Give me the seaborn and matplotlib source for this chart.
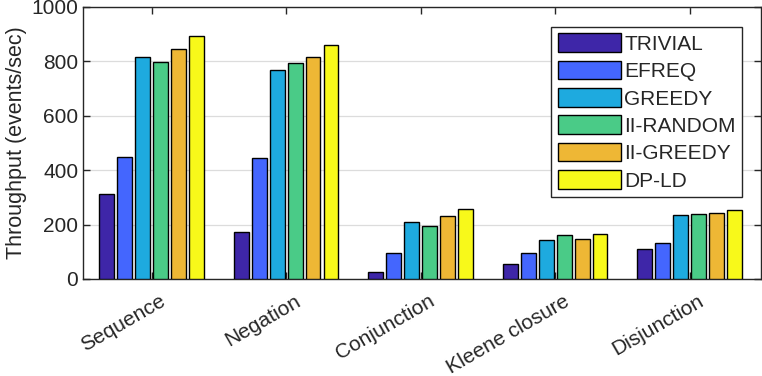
import pandas as pd
import matplotlib
matplotlib.use('Agg')
import matplotlib.pyplot as plt
import matplotlib.transforms as mtransforms
import seaborn as sns

categories = ['Sequence', 'Negation', 'Conjunction', 'Kleene closure', 'Disjunction']
methods = ['TRIVIAL', 'EFREQ', 'GREEDY', 'II-RANDOM', 'II-GREEDY', 'DP-LD']
colors = ['#3E26A8', '#4466FE', '#1EAADF', '#4ACB87', '#EEB735', '#F8F91A']

trivial = [311, 172, 25, 54, 110]
efreq = [447, 444, 94, 94, 131]
greedy = [817, 767, 210, 143, 234]
ii_random = [797, 793, 194, 161, 238]
ii_greedy = [844, 815, 230, 146, 243]
dp_ld = [892, 859, 256, 164, 253]

series = [trivial, efreq, greedy, ii_random, ii_greedy, dp_ld]
rows = []
for m, vals in zip(methods, series):
    for c, v in zip(categories, vals):
        rows.append({'category': c, 'method': m, 'value': v})
df = pd.DataFrame(rows)

sns.set_style('white')
plt.rcParams['font.family'] = ['Liberation Sans', 'DejaVu Sans']

fig = plt.figure(figsize=(7.62, 3.76), dpi=100)
ax = fig.add_axes([83 / 762, 97 / 376, 678 / 762, 272 / 376])

sns.barplot(data=df, x='category', y='value', hue='method', hue_order=methods,
            order=categories, palette=colors, width=0.8, gap=0.17,
            edgecolor='black', linewidth=1.0, saturation=1, ax=ax, zorder=3)

ax.set_xlim(-0.51, 4.53)
ax.set_ylim(0, 1000)
ax.set_yticks([0, 200, 400, 600, 800, 1000])
ax.yaxis.grid(True, color='#dcdcdc', linewidth=0.9, zorder=0)
ax.set_axisbelow(True)
ax.set_xlabel('')
ax.set_ylabel('Throughput (events/sec)', fontsize=15.5, color='#262626', labelpad=3)

ax.tick_params(axis='both', direction='in', length=5, width=1, colors='#262626',
               labelsize=15, top=True, right=True, bottom=True, left=True)
ax.tick_params(axis='x', pad=9)
shift = mtransforms.ScaledTranslation(8 / 100, 0, fig.dpi_scale_trans)
for lab in ax.get_xticklabels():
    lab.set_rotation(30)
    lab.set_ha('right')
    lab.set_rotation_mode('anchor')
    lab.set_transform(lab.get_transform() + shift)
for s in ax.spines.values():
    s.set_color('#262626')
    s.set_linewidth(1)

leg = ax.legend(loc='upper right', bbox_to_anchor=(0.972, 0.926), borderaxespad=0,
                fontsize=15, frameon=True, fancybox=False, framealpha=1,
                edgecolor='#262626', handlelength=3.05, handleheight=1.0,
                handletextpad=0.15, labelspacing=0.33, borderpad=0.3)
leg.get_frame().set_linewidth(1)

fig.savefig('out.png', dpi=100)
